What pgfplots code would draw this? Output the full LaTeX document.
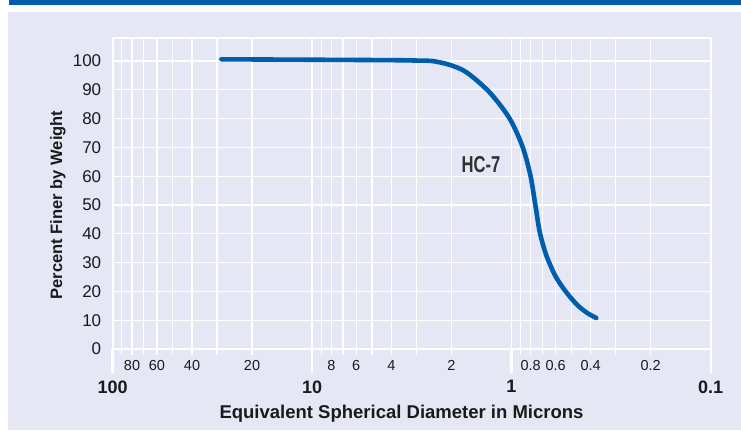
\documentclass[border=0pt]{standalone}
\usepackage{pgfplots}
\pgfplotsset{compat=1.18}
\usepackage{fontspec}
\setmainfont{Liberation Sans}
\newfontfamily\condfont[FakeStretch=0.72]{Liberation Sans}
\definecolor{bgl}{HTML}{E5E8F4}
\definecolor{topblue}{HTML}{005CAA}
\definecolor{curveblue}{HTML}{005DAB}
\definecolor{txt}{HTML}{1A1A1A}
\begin{document}
\begin{tikzpicture}[x=1bp,y=1bp]
\useasboundingbox (0,0) rectangle (741,430);
\fill[white] (0,0) rectangle (741,430);
\fill[bgl] (8,0) rectangle (741,418);
\fill[topblue] (9,425) rectangle (741,430);
\begin{axis}[
  at={(112.7bp,81bp)}, anchor=south west,
  scale only axis, width=598bp, height=311bp,
  xmode=log, x dir=reverse,
  xmin=0.1, xmax=100, ymin=0, ymax=108,
  axis line style={white, line width=2bp},
  tick style={draw=none},
  xtick={80,60,40,20,8,6,4,2,0.8,0.6,0.4,0.2},
  xticklabels={80,60,40,20,8,6,4,2,0.8,0.6,0.4,0.2},
  minor xtick={90,70,50,30,9,7,5,3,0.9,0.7,0.5,0.3},
  ytick={0,10,...,100},
  xmajorgrids, xminorgrids, ymajorgrids,
  major grid style={white, line width=1.3bp},
  minor grid style={white, line width=1.3bp},
  extra x ticks={100,10,1,0.1},
  extra x tick labels={100,10,1,0.1},
  extra x tick style={grid style={white, line width=2.4bp},
     xticklabel style={font=\fontsize{18bp}{20bp}\selectfont\bfseries, yshift=-20bp}},
  xticklabel style={font=\fontsize{14.5bp}{16bp}\selectfont, text=txt, yshift=-8bp},
  yticklabel style={font=\fontsize{17bp}{19bp}\selectfont, text=txt, xshift=-8bp},
  /pgf/number format/assume math mode=true,
  clip=false,
]
\pgfplotsinvokeforeach{100,10,1,0.1}{
  \draw[white, line width=2.4bp] (axis cs:#1,0) -- ([yshift=-24bp]axis cs:#1,0);
}
\pgfplotsinvokeforeach{90,80,70,60,50,40,30,20,9,8,7,6,5,4,3,2,0.9,0.8,0.7,0.6,0.5,0.4,0.3,0.2}{
  \draw[white, line width=1.3bp] (axis cs:#1,0) -- ([yshift=-6bp]axis cs:#1,0);
}
\addplot[curveblue, line width=4.6bp, line cap=round, smooth, tension=0.5] coordinates {
  (28.5,100.6) (10,100.45) (4,100.3) (2.9,100.15) (2.49,100.0)
  (2.046,98.7) (1.681,96.1) (1.289,89.2) (1.023,80.15) (0.881,70.44)
  (0.803,60.37) (0.758,49.97) (0.724,41.29) (0.691,35.74) (0.660,31.58)
  (0.6015,25.33) (0.536,20.12) (0.4667,15.27) (0.4158,12.49) (0.375,10.76)
};
\node[font=\condfont\fontsize{23bp}{25bp}\selectfont\bfseries, text=txt!90!white] at (axis cs:1.42,64.2) {HC-7};
\end{axis}
\node[rotate=90, font=\fontsize{16.5bp}{18bp}\selectfont\bfseries, text=txt] at (58,225) {Percent Finer by Weight};
\node[font=\fontsize{18.5bp}{20bp}\selectfont\bfseries, text=txt] at (401.5,16) {Equivalent Spherical Diameter in Microns};
\end{tikzpicture}
\end{document}
